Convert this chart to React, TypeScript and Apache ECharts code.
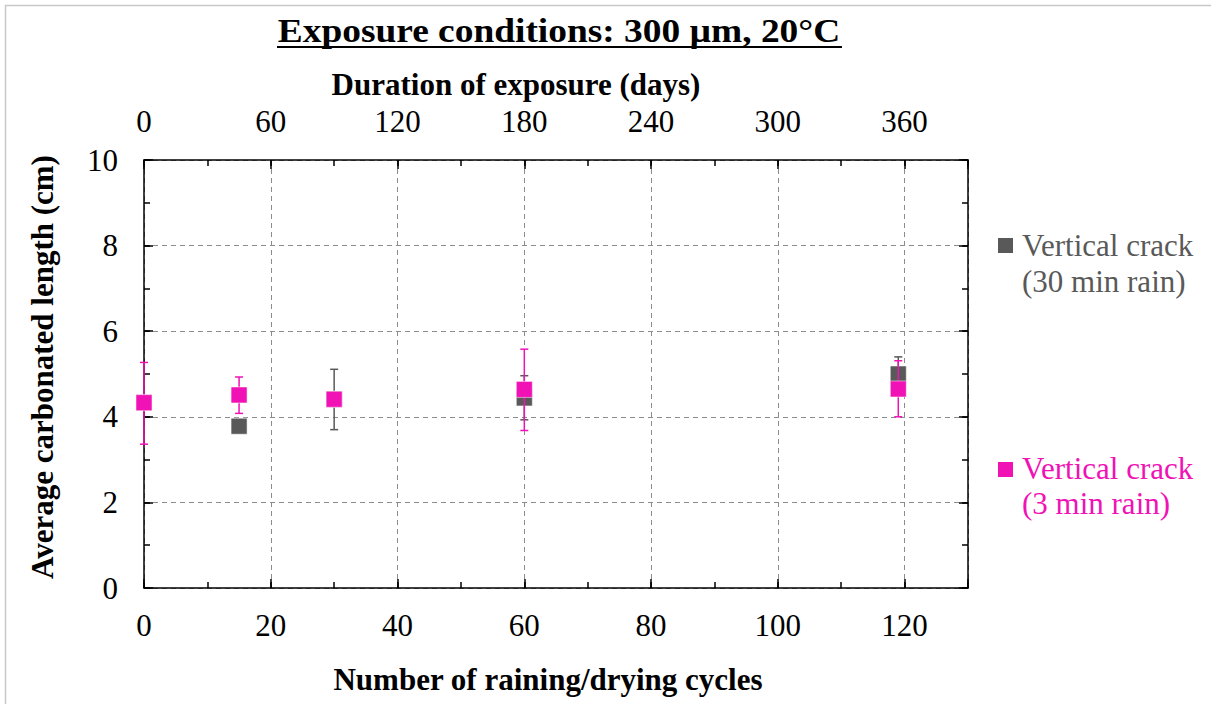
import React, { useEffect, useRef } from "react";
import * as echarts from "echarts";

const FONT = "'Liberation Serif', 'DejaVu Serif', serif";

const titleText = "Exposure conditions: 300 µm, 20°C";
const topAxisName = "Duration of exposure (days)";
const bottomAxisName = "Number of raining/drying cycles";
const yAxisName = "Average carbonated length (cm)";

const seriesNames = ["Vertical crack\n(30 min rain)", "Vertical crack\n(3 min rain)"];

// Vertical crack (30 min rain)
const cycles30 = [0, 15, 30, 60, 119];
const values30 = [4.33, 3.78, 4.41, 4.44, 5.0];
const low30: (number | null)[] = [null, null, 3.7, 3.93, 4.6];
const high30: (number | null)[] = [null, null, 5.11, 4.96, 5.4];

// Vertical crack (3 min rain)
const cycles3 = [0, 15, 30, 60, 119];
const values3 = [4.33, 4.51, 4.41, 4.64, 4.65];
const low3: (number | null)[] = [3.36, 4.08, null, 3.68, 4.0];
const high3: (number | null)[] = [5.27, 4.93, null, 5.58, 5.31];

const GREY = "#595959";
const PINK = "#F012B5";

function errData(xs: number[], lo: (number | null)[], hi: (number | null)[]) {
  const out: number[][] = [];
  xs.forEach((x, i) => {
    if (lo[i] != null && hi[i] != null) out.push([x, lo[i] as number, hi[i] as number]);
  });
  return out;
}

function makeErr(color: string) {
  return (params: any, api: any) => {
    const x = api.value(0);
    const lo = api.value(1);
    const hi = api.value(2);
    const p1 = api.coord([x, hi]);
    const p2 = api.coord([x, lo]);
    const w = 4;
    const st = { stroke: color, lineWidth: 1.5 };
    return {
      type: "group",
      children: [
        { type: "line", shape: { x1: p1[0], y1: p1[1], x2: p2[0], y2: p2[1] }, style: st },
        { type: "line", shape: { x1: p1[0] - w, y1: p1[1], x2: p1[0] + w, y2: p1[1] }, style: st },
        { type: "line", shape: { x1: p2[0] - w, y1: p2[1], x2: p2[0] + w, y2: p2[1] }, style: st },
      ],
    };
  };
}

export default function App() {
  const ref = useRef<HTMLDivElement>(null);
  useEffect(() => {
    if (!ref.current) return;
    const chart = echarts.init(ref.current, undefined, { renderer: "svg" });
    const axisLine = { show: true, onZero: false, lineStyle: { color: "#000", width: 1.5 } };
    const majorTick = { show: true, inside: true, length: 9, lineStyle: { color: "#000", width: 1.5 } };
    const minorTick = { show: true, inside: true, length: 6, lineStyle: { color: "#000", width: 1.5 } };
    const labelStyle = { fontFamily: FONT, fontSize: 31, color: "#000" };
    const nameStyle = { fontFamily: FONT, fontSize: 31, fontWeight: "bold" as const, color: "#000" };
    const split = { show: true, lineStyle: { color: "#8c8c8c", type: [5, 4] as any, width: 1 } };
    const hidden = {
      axisLine: { show: true, onZero: false, lineStyle: { color: "rgba(0,0,0,0)", width: 0 } },
      axisLabel: { show: false },
      splitLine: { show: false },
    };
    chart.setOption({
      animation: false,
      backgroundColor: "#fff",
      grid: { left: 144, right: 243, top: 160, bottom: 116, containLabel: false },
      xAxis: [
        {
          type: "value", position: "bottom", min: 0, max: 130, interval: 20,
          axisLine, axisTick: majorTick,
          axisLabel: { ...labelStyle, margin: 22, formatter: (v: number) => (v % 20 === 0 ? String(v) : "") },
          splitLine: split,
          name: bottomAxisName, nameLocation: "middle", nameGap: 76,
          nameTextStyle: { ...nameStyle, padding: [0, 16, 0, 0] },
        },
        { type: "value", position: "bottom", min: 0, max: 130, interval: 10, axisTick: minorTick, ...hidden },
        {
          type: "value", position: "top", min: 0, max: 390, interval: 60,
          axisLine, axisTick: majorTick,
          axisLabel: { ...labelStyle, margin: 23, formatter: (v: number) => (v % 60 === 0 ? String(v) : "") },
          splitLine: { show: false },
          name: topAxisName, nameLocation: "middle", nameGap: 60,
          nameTextStyle: { ...nameStyle, padding: [0, 80, 0, 0] },
        },
        { type: "value", position: "top", min: 0, max: 390, interval: 30, axisTick: minorTick, ...hidden },
      ],
      yAxis: [
        {
          type: "value", position: "left", min: 0, max: 10, interval: 2,
          axisLine, axisTick: majorTick,
          axisLabel: { ...labelStyle, margin: 26 },
          splitLine: split,
          name: yAxisName, nameLocation: "middle", nameGap: 86, nameRotate: 90,
          nameTextStyle: { ...nameStyle, padding: [0, 0, 0, 14] },
        },
        { type: "value", position: "left", min: 0, max: 10, interval: 1, axisTick: minorTick, ...hidden },
        {
          type: "value", position: "right", min: 0, max: 10, interval: 2,
          axisLine, axisTick: majorTick, axisLabel: { show: false }, splitLine: { show: false },
        },
        { type: "value", position: "right", min: 0, max: 10, interval: 1, axisTick: minorTick, ...hidden },
      ],
      series: [
        {
          type: "custom", name: "Vertical crack (30 min rain) error", xAxisIndex: 0, yAxisIndex: 0, z: 2,
          renderItem: makeErr(GREY), data: errData(cycles30, low30, high30), encode: { x: 0, y: [1, 2] },
        },
        {
          type: "scatter", name: seriesNames[0], xAxisIndex: 0, yAxisIndex: 0, z: 3,
          symbol: "rect", symbolSize: 16,
          itemStyle: { color: GREY, opacity: 1, borderColor: "rgba(255,255,255,0.5)", borderWidth: 1 },
          data: cycles30.map((x, i) => [x, values30[i]]),
        },
        {
          type: "custom", name: "Vertical crack (3 min rain) error", xAxisIndex: 0, yAxisIndex: 0, z: 4,
          renderItem: makeErr(PINK), data: errData(cycles3, low3, high3), encode: { x: 0, y: [1, 2] },
        },
        {
          type: "scatter", name: seriesNames[1], xAxisIndex: 0, yAxisIndex: 0, z: 5,
          symbol: "rect", symbolSize: 16,
          itemStyle: { color: PINK, opacity: 1, borderColor: "rgba(255,255,255,0.5)", borderWidth: 1 },
          data: cycles3.map((x, i) => [x, values3[i]]),
        },
      ],
      graphic: [
        { type: "rect", shape: { x: 5.5, y: 5.5, width: 1400, height: 900 }, style: { fill: "none", stroke: "#c8c8c8", lineWidth: 1.5 }, silent: true },
        {
          type: "text", x: 559, y: 31, scaleX: 1.1,
          style: { text: titleText, font: `bold 34px ${FONT}`, fill: "#000", textAlign: "center", textVerticalAlign: "middle" },
        },
        { type: "line", shape: { x1: 277, y1: 47, x2: 842, y2: 47 }, style: { stroke: "#000", lineWidth: 2 } },
        { type: "rect", shape: { x: 998, y: 238, width: 15, height: 15 }, style: { fill: GREY } },
        {
          type: "text", x: 1022, y: 227,
          style: { text: seriesNames[0], font: `31px ${FONT}`, fill: GREY, textAlign: "left", textVerticalAlign: "top", lineHeight: 36 },
        },
        { type: "rect", shape: { x: 998, y: 462, width: 15, height: 15 }, style: { fill: PINK } },
        {
          type: "text", x: 1022, y: 451,
          style: { text: seriesNames[1], font: `31px ${FONT}`, fill: PINK, textAlign: "left", textVerticalAlign: "top", lineHeight: 35 },
        },
      ],
    });
    return () => chart.dispose();
  }, []);
  return <div ref={ref} style={{ position: "fixed", left: 0, top: 0, width: 1211, height: 704 }} />;
}
